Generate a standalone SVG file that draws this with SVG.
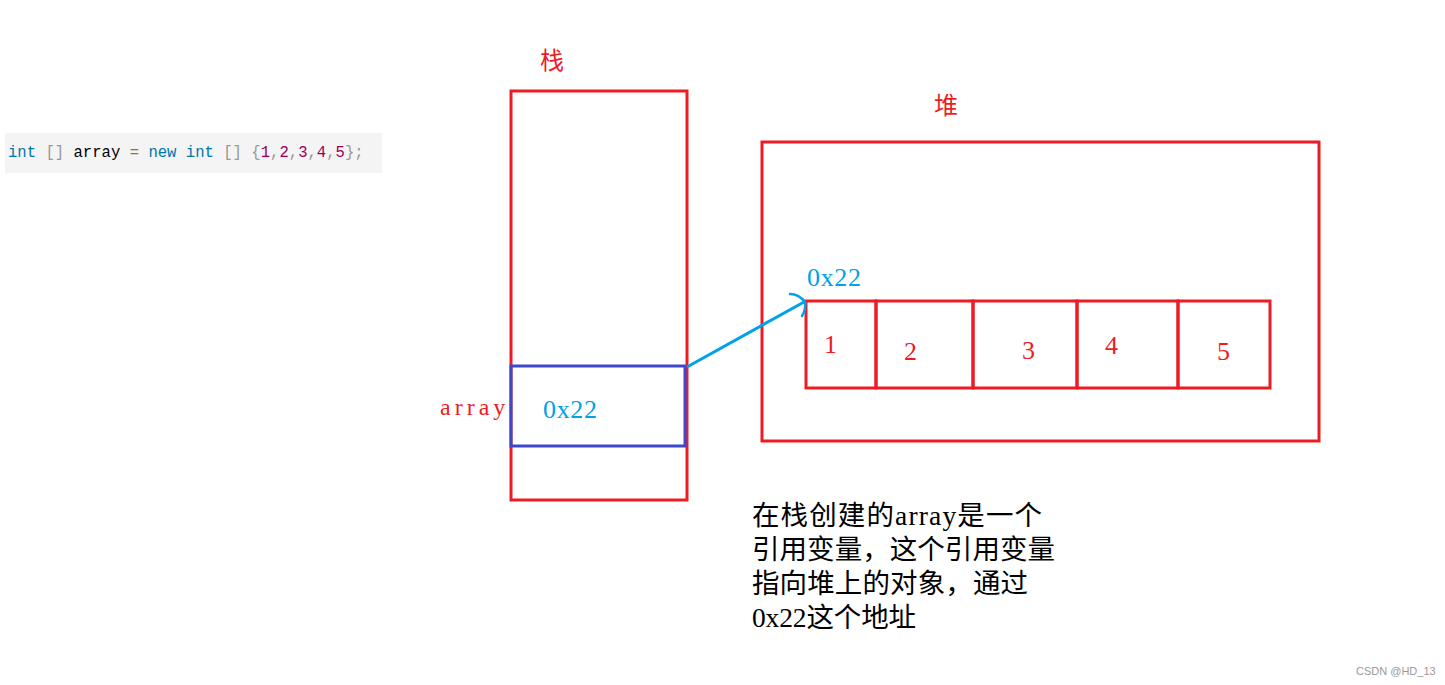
<svg xmlns="http://www.w3.org/2000/svg" width="1445" height="685" viewBox="0 0 1445 685">
<style>
.red{fill:none;stroke:#ED1C24;stroke-width:3}
.blue{fill:none;stroke:#3F48CC;stroke-width:3}
.lbl{font-family:"Liberation Serif","Noto Sans CJK SC",serif}
.rt{fill:#ED1C24}
.bt{fill:#00A2E8}
.code{font-family:"Liberation Mono",monospace;font-size:15.6px}
.kw{fill:#0077AA}.pu{fill:#999999}.op{fill:#9A6E3A}.nu{fill:#990055}.tx{fill:#000000}
</style>
<rect width="1445" height="685" fill="#ffffff"/>
<g id="code">
<rect x="5" y="133" width="377" height="40" fill="#F4F4F4"/>
<text class="code" x="8" y="157"><tspan class="kw">int</tspan><tspan class="tx"> </tspan><tspan class="pu">[]</tspan><tspan class="tx"> array </tspan><tspan class="op">=</tspan><tspan class="tx"> </tspan><tspan class="kw">new</tspan><tspan class="tx"> </tspan><tspan class="kw">int</tspan><tspan class="tx"> </tspan><tspan class="pu">[]</tspan><tspan class="tx"> </tspan><tspan class="pu">{</tspan><tspan class="nu">1</tspan><tspan class="pu">,</tspan><tspan class="nu">2</tspan><tspan class="pu">,</tspan><tspan class="nu">3</tspan><tspan class="pu">,</tspan><tspan class="nu">4</tspan><tspan class="pu">,</tspan><tspan class="nu">5</tspan><tspan class="pu">};</tspan></text>
</g>
<g id="stack">
<text class="lbl rt" x="540" y="69" font-size="24">栈</text>
<rect class="red" x="511" y="91" width="176" height="409"/>
</g>
<g id="array-var">
<rect class="blue" x="511" y="366" width="174" height="80"/>
<text class="lbl rt" x="440" y="415" font-size="24" letter-spacing="4">array</text>
<text class="lbl bt" x="543" y="418" font-size="26" textLength="54" lengthAdjust="spacing">0x22</text>
</g>
<g id="heap">
<text class="lbl rt" x="934" y="114" font-size="24">堆</text>
<rect class="red" x="762" y="142" width="557" height="299"/>
</g>
<g id="array-obj">
<text class="lbl bt" x="807" y="286" font-size="26" textLength="54" lengthAdjust="spacing">0x22</text>
<rect class="red" x="806" y="301" width="70" height="87"/>
<rect class="red" x="876" y="301" width="97" height="87"/>
<rect class="red" x="973" y="301" width="104" height="87"/>
<rect class="red" x="1077" y="301" width="101" height="87"/>
<rect class="red" x="1178" y="301" width="92" height="87"/>
<text class="lbl rt" x="824" y="353" font-size="26">1</text>
<text class="lbl rt" x="904" y="360" font-size="26">2</text>
<text class="lbl rt" x="1022" y="359" font-size="26">3</text>
<text class="lbl rt" x="1105" y="354" font-size="26">4</text>
<text class="lbl rt" x="1217" y="360" font-size="26">5</text>
</g>
<g id="connectors">
<path d="M687,367 L804,302" fill="none" stroke="#00A2E8" stroke-width="3"/>
<path d="M790,294 Q799,294 805,302 Q806,310 802,316" fill="none" stroke="#00A2E8" stroke-width="2.5" stroke-linecap="round"/>
</g>
<g id="note" class="lbl" font-size="27.5" fill="#000000">
<text x="752" y="525" textLength="290" lengthAdjust="spacing">在栈创建的array是一个</text>
<text x="752" y="559" textLength="303" lengthAdjust="spacing">引用变量，这个引用变量</text>
<text x="752" y="593" textLength="276" lengthAdjust="spacing">指向堆上的对象，通过</text>
<text x="752" y="627" textLength="164" lengthAdjust="spacing">0x22这个地址</text>
</g>
<text x="1356" y="675" font-family="Liberation Sans,sans-serif" font-size="11" fill="#999999">CSDN @HD_13</text>
</svg>
